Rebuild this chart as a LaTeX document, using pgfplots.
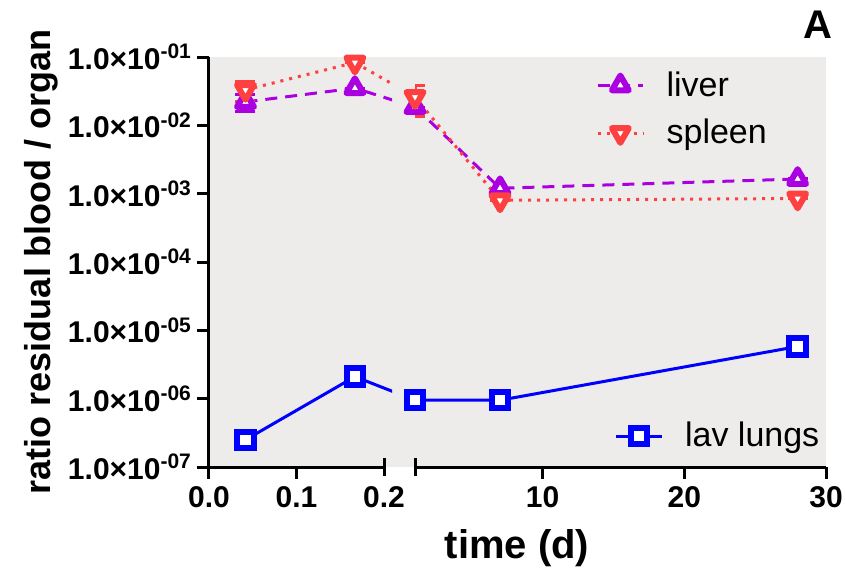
\documentclass[border=0pt]{standalone}
\usepackage{fontspec}
\setmainfont{Liberation Sans}
\usepackage{pgfplots}
\pgfplotsset{compat=1.18}

\definecolor{bgc}{RGB}{238,236,235}
\definecolor{liv}{RGB}{170,0,225}
\definecolor{spl}{RGB}{255,64,64}
\definecolor{lav}{RGB}{0,0,255}

\newcommand\ee[1]{1.0×10\textsuperscript{\fontsize{10.5}{12}\selectfont -0#1}}

\tikzset{
  livst/.style={liv, line width=1.5pt, dash pattern=on 6pt off 4pt, mark=triangle*, mark size=4.9pt,
    mark options={solid, fill=white, line width=3pt, line join=round}},
  splst/.style={spl, line width=1.5pt, dash pattern=on 1.5pt off 3pt, mark=triangle*, mark size=4.9pt,
    mark options={solid, fill=white, line width=3pt, line join=round, rotate=180}},
  lavst/.style={lav, line width=1.5pt, mark=square*, mark size=4.1pt,
    mark options={solid, fill=white, line width=3pt}},
}
\pgfplotsset{
  ebar/.style={error bars/.cd, y dir=both, y explicit,
    error bar style={solid, line width=1.5pt},
    error mark options={rotate=90, mark size=5pt, line width=1.5pt}},
}

\begin{document}
\begin{tikzpicture}
\useasboundingbox (-104.5pt,-56pt) rectangle (318pt,233.5pt);
\fill[bgc] (0,0) rectangle (308.5pt,205pt);

% left part of the broken time axis: 0 - 0.2 d
\begin{axis}[scale only axis, width=91.5pt, height=205pt, at={(0,0)}, anchor=south west,
  xmin=0, xmax=0.2091, ymode=log, ymin=1e-7, ymax=1e-1,
  axis y line*=left, axis x line*=bottom,
  axis line style={line width=1.5pt}, x axis line style={draw=none},
  tick style={black, line width=1.5pt}, tick align=outside, major tick length=6pt,
  yminorticks=false,
  xtick={0,0.1}, xticklabels={0.0,0.1},
  extra x ticks={0.2}, extra x tick labels={0.2},
  extra x tick style={tick align=center, major tick length=9pt,
    xticklabel style={yshift=-1.5pt}},
  ytick={1e-7,1e-6,1e-5,1e-4,1e-3,1e-2,1e-1},
  yticklabels={\ee7,\ee6,\ee5,\ee4,\ee3,\ee2,\ee1},
  tick label style={font=\bfseries\fontsize{15}{17}\selectfont},
  yticklabel style={xshift=1pt},
  ylabel={ratio residual blood / organ},
  ylabel style={font=\bfseries\fontsize{18}{21}\selectfont, yshift=-2pt},
]
\addplot[livst, ebar] coordinates {(0.0417,2.2e-2) +- (0,0.6e-2) (0.1667,3.5e-2) +- (0,0)};
\addplot[splst, ebar] coordinates {(0.0417,3.3e-2) +- (0,1.1e-2) (0.1667,8.3e-2) +- (0,0)};
\addplot[lavst] coordinates {(0.0417,2.5e-7) (0.1667,2.1e-6)};
\coordinate (liv4) at (axis cs:0.1667,3.5e-2);
\coordinate (spl4) at (axis cs:0.1667,8.3e-2);
\coordinate (lav4) at (axis cs:0.1667,2.1e-6);
\end{axis}

% right part: 1 - 30 d
\begin{axis}[scale only axis, width=205.5pt, height=205pt, at={(103pt,0)}, anchor=south west,
  xmin=1, xmax=30, ymode=log, ymin=1e-7, ymax=1e-1,
  axis x line*=bottom, axis y line=none,
  axis line style={line width=1.5pt},
  tick style={black, line width=1.5pt}, tick align=outside, major tick length=6pt,
  ytick=\empty, yminorticks=false,
  xtick={10,20,30}, xticklabels={10,20,30},
  extra x ticks={1}, extra x tick labels={{}},
  extra x tick style={tick align=center, major tick length=9pt},
  tick label style={font=\bfseries\fontsize{15}{17}\selectfont},
  legend style={at={(0.425,0.985)}, anchor=north west, draw=none, fill=none,
    font=\fontsize{17}{20}\selectfont, row sep=6pt,
    /tikz/every odd column/.append style={column sep=9pt}},
  legend cell align=left,
  legend image code/.code={\draw[mark repeat=2,mark phase=2,#1] plot coordinates {(0cm,0cm) (0.4cm,0cm) (0.8cm,0cm)};},
]
\addplot[livst, ebar] coordinates {(1,1.85e-2) +- (0,0) (7,1.2e-3) +- (0,0) (28,1.64e-3) +- (0,0)};
\addlegendentry{liver}
\addplot[splst, ebar] coordinates {(1,2.6e-2) +- (0,1.25e-2) (7,8.0e-4) +- (0,0) (28,8.5e-4) +- (0,0)};
\addlegendentry{spleen}
\coordinate (liv1) at (axis cs:1,1.85e-2);
\coordinate (spl1) at (axis cs:1,2.6e-2);
\end{axis}

\begin{axis}[scale only axis, width=205.5pt, height=205pt, at={(103pt,0)}, anchor=south west,
  xmin=1, xmax=30, ymode=log, ymin=1e-7, ymax=1e-1, hide axis,
  legend style={at={(0.47,0.0756)}, anchor=west, draw=none, fill=none,
    font=\fontsize{17}{20}\selectfont,
    /tikz/every odd column/.append style={column sep=9pt}},
  legend image code/.code={\draw[mark repeat=2,mark phase=2,#1] plot coordinates {(0cm,0cm) (0.4cm,0cm) (0.8cm,0cm)};},
]
\addplot[lavst] coordinates {(1,9.5e-7) (7,9.5e-7) (28,5.8e-6)};
\addlegendentry{lav lungs}
\coordinate (lav1) at (axis cs:1,9.5e-7);
\end{axis}

% segments from 4 h towards 1 d, cut at the break
\begin{scope}
\clip (0,0) rectangle (91.5pt,205pt);
\draw[liv, line width=1.5pt, dash pattern=on 6pt off 4pt, shorten <=5pt] (liv4) -- (liv1);
\draw[spl, line width=1.5pt, dash pattern=on 1.5pt off 3pt, shorten <=5pt] (spl4) -- (spl1);
\draw[lav, line width=1.5pt, shorten <=5pt] (lav4) -- (lav1);
\end{scope}

\draw[line width=1.5pt] (-0.75pt,0) -- (87.5pt,0);
\node[font=\bfseries\fontsize{20}{24}\selectfont] at (154pt,-40.5pt) {time (d)};
\node[font=\bfseries\fontsize{20}{24}\selectfont] at (304.5pt,221pt) {A};
\end{tikzpicture}
\end{document}
